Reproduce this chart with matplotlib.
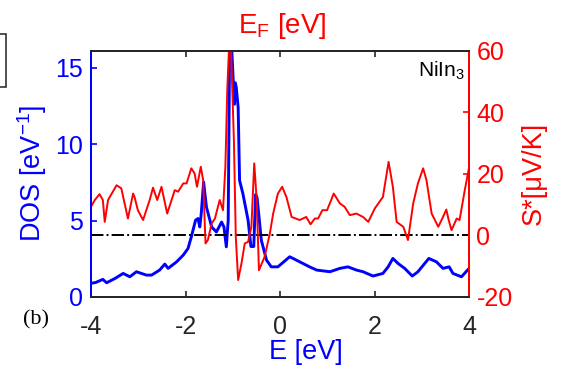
import numpy as np
import matplotlib.pyplot as plt
from matplotlib.patches import Rectangle

plt.rcParams['font.family'] = ['Liberation Sans', 'DejaVu Sans']
plt.rcParams['axes.unicode_minus'] = False

# density of states (blue, left axis)
E_dos = [-4.00, -3.90, -3.75, -3.67, -3.50, -3.32, -3.18, -3.04, -2.83, -2.72,
         -2.55, -2.44, -2.37, -2.19, -2.05, -1.95, -1.88, -1.79, -1.74, -1.70,
         -1.67, -1.62, -1.56, -1.45, -1.35, -1.24, -1.19, -1.14, -1.10, -1.07,
         -1.03, -0.99, -0.97, -0.95, -0.93, -0.89, -0.86, -0.79, -0.68, -0.62,
         -0.56, -0.52, -0.49, -0.40, -0.29, -0.19, -0.05, 0.20, 0.41, 0.62,
         0.77, 1.05, 1.26, 1.43, 1.61, 1.75, 1.96, 2.17, 2.28, 2.38,
         2.49, 2.63, 2.79, 2.91, 3.14, 3.30, 3.44, 3.57, 3.65, 3.83, 4.00]
dos = [0.89, 0.95, 1.15, 0.93, 1.20, 1.54, 1.32, 1.65, 1.43, 1.43,
       1.76, 2.15, 1.87, 2.30, 2.74, 3.17, 3.93, 5.02, 5.13, 4.58,
       5.45, 7.51, 5.88, 4.58, 4.25, 4.90, 4.58, 3.28, 5.02, 16.5,
       16.5, 13.9, 12.6, 14.0, 13.7, 12.4, 7.62, 6.76, 5.02, 3.30,
       3.30, 6.70, 6.50, 3.71, 2.41, 1.97, 1.97, 2.63, 2.30, 1.97,
       1.76, 1.65, 1.87, 1.97, 1.76, 1.65, 1.37, 1.54, 1.97, 2.52,
       2.19, 1.87, 1.37, 1.65, 2.52, 2.30, 1.87, 1.97, 1.54, 1.32, 1.90]

# Seebeck coefficient (red, right axis)
E_s = [-4.00, -3.92, -3.82, -3.75, -3.71, -3.64, -3.46, -3.36, -3.22, -3.11,
       -3.08, -3.01, -2.90, -2.76, -2.69, -2.60, -2.51, -2.39, -2.23, -2.16,
       -2.05, -1.98, -1.88, -1.81, -1.76, -1.68, -1.63, -1.58, -1.53, -1.45,
       -1.38, -1.28, -1.21, -1.16, -1.12, -1.08, -1.04, -0.98, -0.94, -0.89,
       -0.82, -0.75, -0.68, -0.61, -0.55, -0.50, -0.45, -0.33, -0.22, -0.15,
       -0.05, 0.04, 0.13, 0.24, 0.41, 0.55, 0.64, 0.73, 0.80, 0.89,
       0.99, 1.13, 1.26, 1.36, 1.47, 1.61, 1.75, 1.86, 2.00, 2.17,
       2.29, 2.38, 2.46, 2.60, 2.70, 2.81, 2.91, 3.02, 3.09, 3.20,
       3.34, 3.44, 3.51, 3.56, 3.62, 3.73, 3.79, 3.90, 4.00]
S = [9.3, 11.5, 13.4, 11.5, 4.4, 11.5, 16.3, 15.3, 5.5, 13.6,
     12.5, 8.2, 5.0, 11.5, 15.5, 11.5, 15.8, 7.1, 14.7, 14.2,
     16.9, 16.9, 21.8, 20.1, 15.8, 22.3, 18.0, -2.6, -1.5, 3.9,
     5.5, 11.5, 8.2, 22.3, 47.2, 62.0, 60.0, 31.0, -0.4, -14.5,
     -9.1, -2.6, -2.1, 2.8, 23.4, 12.0, -11.3, -6.9, 0.6, 7.1,
     13.6, 15.8, 12.5, 6.0, 5.0, 6.0, 3.6, 5.5, 5.5, 8.2,
     8.2, 13.6, 10.4, 9.3, 6.6, 7.1, 6.0, 4.4, 8.8, 12.5,
     23.9, 15.8, 4.4, 2.8, -1.5, 10.4, 16.9, 21.8, 18.0, 7.1,
     2.8, 6.0, 8.4, 5.0, 1.7, 5.5, 5.0, 14.7, 22.8]

xticks = [-4, -2, 0, 2, 4]
dos_ticks = [0, 5, 10, 15]
s_ticks = [-20, 0, 20, 40, 60]

fig = plt.figure(figsize=(5.66, 3.73), dpi=100)
ax = fig.add_axes([0.1608, 0.2038, 0.6687, 0.6602])
ax2 = ax.twinx()

ax.plot(E_dos, dos, color='blue', lw=2.1)
ax2.plot([-4, 4], [0, 0], color='black', lw=1.4, ls='-.')
ax2.plot(E_s, S, color='red', lw=1.4)

ax.set_xlim(-4, 4)
ax.set_ylim(0, 16.1)
ax2.set_ylim(-20, 60)
ax.set_xticks(xticks)
ax.set_yticks(dos_ticks)
ax2.set_yticks(s_ticks)

fs = 18
ax.tick_params(axis='x', direction='in', top=True, length=4, width=1.2,
               labelsize=fs, colors='#262626', pad=13)
ax.tick_params(axis='y', direction='in', length=4, width=1.2, labelsize=fs,
               colors='blue', pad=5.5)
ax2.tick_params(axis='y', direction='in', length=4, width=1.2, labelsize=fs,
                colors='red', pad=5)

for a in (ax, ax2):
    a.spines['top'].set_color('#262626')
    a.spines['bottom'].set_color('#262626')
    a.spines['left'].set_color('blue')
    a.spines['right'].set_color('red')
    for sp in a.spines.values():
        sp.set_linewidth(1.4)

ax.set_xlabel('E [eV]', color='blue', fontsize=19.5)
ax.xaxis.set_label_coords(0.568, -0.17)
ax.set_ylabel('DOS [eV$^{\\mathregular{-1}}$]', color='blue', fontsize=19.5)
ax.yaxis.set_label_coords(-0.111, 0.5)
ax2.set_ylabel('S*[μV/K]', color='red', fontsize=19.5)
ax2.yaxis.set_label_coords(1.135, 0.5)

# top label (Fermi level axis), 17 px above the frame
ax.text(0.506, 1.0 + 17.4 / 246.3, 'E$_{\\mathregular{F}}$ [eV]',
        transform=ax.transAxes, ha='center', va='baseline', color='red',
        fontsize=20)

ax.text(0.988, 0.897, 'NiIn$_{\\mathregular{3}}$', transform=ax.transAxes,
        ha='right', va='baseline', fontsize=15, color='black')
fig.text(0.0636, 0.142, '(b)', family='Liberation Serif', fontsize=16,
         ha='center', va='center')

# clipped frame of a neighbouring panel at the top left
fig.add_artist(Rectangle((-0.05, 0.766), 0.0606, 0.142, transform=fig.transFigure,
                         fill=False, edgecolor='#333333', lw=1.2))

fig.savefig('out.png', dpi=100)
